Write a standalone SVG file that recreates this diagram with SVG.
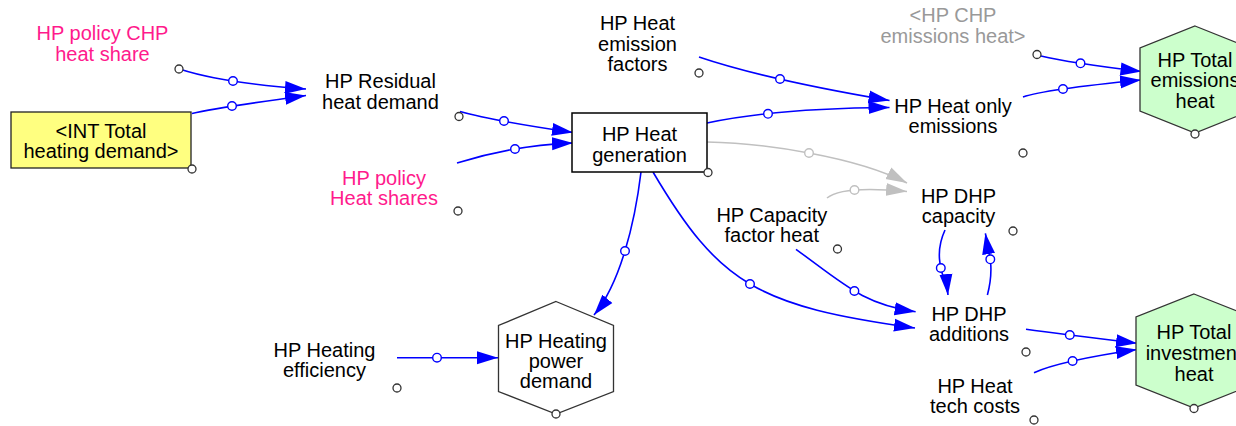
<svg xmlns="http://www.w3.org/2000/svg" width="1236" height="426" viewBox="0 0 1236 426">
<style>
.t{font-family:"Liberation Sans",Arial,sans-serif;font-size:20px;text-anchor:middle;fill:#000}
.pink{fill:#ff1a8c}
.grey{fill:#999}
.ln{fill:none;stroke:#0000ff;stroke-width:1.6}
.lg{fill:none;stroke:#c0c0c0;stroke-width:1.6}
.pc{fill:#fff;stroke:#0000ff;stroke-width:1.4}
.pg{fill:#fff;stroke:#c0c0c0;stroke-width:1.4}
.hc{fill:#fff;stroke:#333;stroke-width:1.3}
.hex{stroke:#333;stroke-width:1.3}
</style>
<defs>
<marker id="ab" markerUnits="userSpaceOnUse" markerWidth="22" markerHeight="14" refX="21" refY="7" orient="auto" viewBox="0 0 22 14"><path d="M0,0.5 L21,7 L0,13.5 z" fill="#0000ff"/></marker>
<marker id="ag" markerUnits="userSpaceOnUse" markerWidth="22" markerHeight="14" refX="21" refY="7" orient="auto" viewBox="0 0 22 14"><path d="M0,0.5 L21,7 L0,13.5 z" fill="#c0c0c0"/></marker>
</defs>
<rect width="1236" height="426" fill="#fff"/>

<g id="connectors">
<path class="ln" d="M181,69.5 Q223,83 306,89" marker-end="url(#ab)"/>
<path class="ln" d="M192,113.5 Q215.5,108 306,95.5" marker-end="url(#ab)"/>
<path class="ln" d="M460,111.5 Q491.5,120.5 573,132.5" marker-end="url(#ab)"/>
<path class="ln" d="M457,163 Q515,145 573,143" marker-end="url(#ab)"/>
<path class="ln" d="M699,57 Q765.6,79.5 889.5,100.5" marker-end="url(#ab)"/>
<path class="ln" d="M707,123 C740,116 800,108 889.5,107.5" marker-end="url(#ab)"/>
<path class="lg" d="M707,142 C763,143 856,156.6 907,183" marker-end="url(#ag)"/>
<path class="lg" d="M827,198 Q842,185.3 907,191.5" marker-end="url(#ag)"/>
<path class="ln" d="M641,172 C634.8,223.5 620.1,283.5 594,315" marker-end="url(#ab)"/>
<path class="ln" d="M653,172 C719.5,284.7 757.8,306 915,328" marker-end="url(#ab)"/>
<path class="ln" d="M796,249.3 C844.6,284.7 863.4,304.4 915.6,311.7" marker-end="url(#ab)"/>
<path class="ln" d="M945,230 C931.3,259.7 946.5,280 948,295" marker-end="url(#ab)"/>
<path class="ln" d="M987.4,295 C995.2,265.4 988,250 985.4,233.3" marker-end="url(#ab)"/>
<path class="ln" d="M1026,329.3 Q1058.1,333.7 1137,343.3" marker-end="url(#ab)"/>
<path class="ln" d="M1034,372.7 Q1059.7,360.9 1137,349.5" marker-end="url(#ab)"/>
<path class="ln" d="M1041,56 Q1069.75,62.85 1141.5,71.5" marker-end="url(#ab)"/>
<path class="ln" d="M1023,97 Q1044,89.5 1141,80" marker-end="url(#ab)"/>
<path class="ln" d="M397,357.7 L498,357.7" marker-end="url(#ab)"/>
<circle class="pc" cx="233" cy="81" r="4.3"/>
<circle class="pc" cx="232" cy="106" r="4.3"/>
<circle class="pc" cx="504" cy="121" r="4.3"/>
<circle class="pc" cx="515" cy="149" r="4.3"/>
<circle class="pc" cx="780" cy="79" r="4.3"/>
<circle class="pc" cx="768" cy="113.8" r="4.3"/>
<circle class="pg" cx="809" cy="153" r="4.3"/>
<circle class="pg" cx="854.5" cy="190" r="4.3"/>
<circle class="pc" cx="625" cy="251" r="4.3"/>
<circle class="pc" cx="750" cy="284" r="4.3"/>
<circle class="pc" cx="854.4" cy="291" r="4.3"/>
<circle class="pc" cx="940.8" cy="268" r="4.3"/>
<circle class="pc" cx="990.3" cy="259.3" r="4.3"/>
<circle class="pc" cx="1069.8" cy="335" r="4.3"/>
<circle class="pc" cx="1072.6" cy="361" r="4.3"/>
<circle class="pc" cx="1080.5" cy="63.3" r="4.3"/>
<circle class="pc" cx="1063" cy="89" r="4.3"/>
<circle class="pc" cx="437" cy="357.7" r="4.3"/>
</g>

<g id="hp-policy-chp-heat-share">
<text class="t pink" x="102.5" y="40">HP policy CHP</text>
<text class="t pink" x="102.5" y="60.5">heat share</text>
<circle class="hc" cx="179" cy="69" r="4"/>
</g>

<g id="int-total-heating-demand">
<rect x="11" y="112" width="180" height="56" fill="#ffff80" stroke="#222" stroke-width="1.3"/>
<text class="t" x="101" y="138">&lt;INT Total</text>
<text class="t" x="101" y="158">heating demand&gt;</text>
<circle class="hc" cx="192" cy="169" r="4"/>
</g>

<g id="hp-residual-heat-demand">
<text class="t" x="380.5" y="88">HP Residual</text>
<text class="t" x="380.5" y="108.5">heat demand</text>
<circle class="hc" cx="459" cy="116.5" r="4"/>
</g>

<g id="hp-policy-heat-shares">
<text class="t pink" x="384" y="184.5">HP policy</text>
<text class="t pink" x="384" y="204.5">Heat shares</text>
<circle class="hc" cx="458" cy="211" r="4"/>
</g>

<g id="hp-heat-generation">
<rect x="572" y="113" width="135" height="59" fill="#fff" stroke="#000" stroke-width="1.5"/>
<text class="t" x="639.5" y="140.5">HP Heat</text>
<text class="t" x="639.5" y="161.5">generation</text>
<circle class="hc" cx="708" cy="172.5" r="4"/>
</g>

<g id="hp-heat-emission-factors">
<text class="t" x="637.5" y="30">HP Heat</text>
<text class="t" x="637.5" y="50.5">emission</text>
<text class="t" x="637.5" y="71">factors</text>
<circle class="hc" cx="699" cy="73" r="4"/>
</g>

<g id="hp-chp-emissions-heat">
<text class="t grey" x="953" y="22">&lt;HP CHP</text>
<text class="t grey" x="953" y="43">emissions heat&gt;</text>
<circle class="hc" cx="1037" cy="54.5" r="4"/>
</g>

<g id="hp-heat-only-emissions">
<text class="t" x="953" y="112.5">HP Heat only</text>
<text class="t" x="953" y="133">emissions</text>
<circle class="hc" cx="1023" cy="153" r="4"/>
</g>

<g id="hp-total-emissions-heat">
<polygon class="hex" points="1195,26 1250,48 1250,111 1195,133 1140,111 1140,48" fill="#ccffcc"/>
<text class="t" x="1195" y="66.5">HP Total</text>
<text class="t" x="1195" y="87">emissions</text>
<text class="t" x="1195" y="107.5">heat</text>
<circle class="hc" cx="1195" cy="134" r="4"/>
</g>

<g id="hp-dhp-capacity">
<text class="t" x="958.5" y="202.7">HP DHP</text>
<text class="t" x="958.5" y="223">capacity</text>
<circle class="hc" cx="1013" cy="231" r="4"/>
</g>

<g id="hp-capacity-factor-heat">
<text class="t" x="771.8" y="221.7">HP Capacity</text>
<text class="t" x="771.8" y="241.7">factor heat</text>
<circle class="hc" cx="837.5" cy="249" r="4"/>
</g>

<g id="hp-dhp-additions">
<text class="t" x="969" y="321">HP DHP</text>
<text class="t" x="969" y="341">additions</text>
<circle class="hc" cx="1026" cy="352" r="4"/>
</g>

<g id="hp-heat-tech-costs">
<text class="t" x="975" y="393.3">HP Heat</text>
<text class="t" x="975" y="413.3">tech costs</text>
<circle class="hc" cx="1034" cy="420" r="4"/>
</g>

<g id="hp-total-investment-heat">
<polygon class="hex" points="1194,294 1252,317 1252,385 1194,408 1136,385 1136,317" fill="#ccffcc"/>
<text class="t" x="1194" y="339">HP Total</text>
<text class="t" x="1194" y="360">investment</text>
<text class="t" x="1194" y="380.5">heat</text>
<circle class="hc" cx="1194" cy="408.5" r="4"/>
</g>

<g id="hp-heating-efficiency">
<text class="t" x="324.5" y="357">HP Heating</text>
<text class="t" x="324.5" y="377">efficiency</text>
<circle class="hc" cx="397" cy="388" r="4"/>
</g>

<g id="hp-heating-power-demand">
<polygon class="hex" points="556,301.5 613.5,325.5 613.5,391.5 556,414 498.5,391.5 498.5,325.5" fill="#fff"/>
<text class="t" x="556" y="348">HP Heating</text>
<text class="t" x="556" y="368">power</text>
<text class="t" x="556" y="388">demand</text>
<circle class="hc" cx="556" cy="414" r="4"/>
</g>
</svg>
